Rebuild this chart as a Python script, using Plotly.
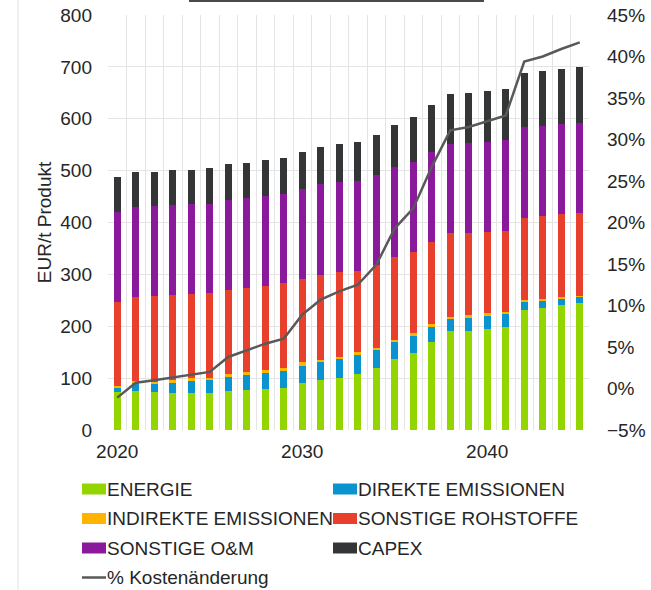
import plotly.graph_objects as go

# Cost breakdown per tonne of product, 2020-2045
years = list(range(2020, 2046))

energie = [74, 75, 73, 72, 70.5, 70.5, 75, 77, 78.5, 80.5, 90, 96.5, 99.5,
           107.5, 119, 136.5, 149, 170, 190.5, 191.5, 195.5, 198, 231.5, 236,
           241, 245.5]
direkte = [7.5, 15, 16.5, 19, 24.5, 25.5, 27.5, 28.5, 31, 34, 34, 35.5, 37.5,
           37, 35, 33.5, 33, 29, 23, 25, 25, 25.5, 15.5, 14.5, 13, 11.5]
indirekte = [4, 4, 3.5, 4.5, 4.5, 5, 6, 7, 5.5, 4.5, 6.5, 3.5, 4.5, 5.5, 4.5,
             3.5, 4.5, 5, 5, 5, 4.5, 4.5, 3.5, 2.5, 2.5, 1.5]
rohstoffe = [162, 162, 165.5, 164.5, 163, 162.5, 161.5, 161, 163, 163.5,
             161.5, 164, 162.5, 156, 160, 159.5, 157.5, 157.5, 160.5, 158, 157,
             156, 159, 159.5, 160, 160.5]
om = [173.5, 173, 173.5, 173, 173, 173, 174, 174.5, 173.5, 173, 173, 174.5,
      173.5, 174, 172.5, 173.5, 173.5, 175, 172.5, 173, 174, 176, 174, 174,
      172.5, 173]
capex = [67, 68, 66, 67.5, 66.5, 68, 68, 67, 68.5, 69, 70, 71.5, 73.5, 75, 78,
         82, 86, 90, 95.5, 97.5, 97.5, 97, 104, 105, 107, 108]
kostenaenderung = [-1.1, 0.7, 1.0, 1.35, 1.7, 2.0, 3.8, 4.6, 5.4, 6.0, 8.9,
                   10.7, 11.7, 12.5, 14.9, 19.3, 21.7, 26.7, 31.1, 31.5, 32.2,
                   32.9, 39.4, 40.0, 40.9, 41.7]

series_names = ["ENERGIE", "DIREKTE EMISSIONEN", "INDIREKTE EMISSIONEN",
                "SONSTIGE ROHSTOFFE", "SONSTIGE O&M", "CAPEX"]
series_values = [energie, direkte, indirekte, rohstoffe, om, capex]
series_colors = ["#93D500", "#0A94CF", "#FFB400", "#E8402C", "#8A1A9B",
                 "#333536"]
line_name = "% Kostenänderung"
line_color = "#595959"
text_color = "#262626"
grid_color = "#E4E4E4"
font_family = "Liberation Sans, Arial, sans-serif"

# pixel geometry of the plot area
PLOT_L, PLOT_R, PLOT_T, PLOT_B = 108, 589, 15, 430
W, H = 651, 590


def px_x(px):
    return (px - PLOT_L) / (PLOT_R - PLOT_L)


def px_y(py):
    return (PLOT_B - py) / (PLOT_B - PLOT_T)


fig = go.Figure()

for name, vals, color in zip(series_names, series_values, series_colors):
    fig.add_trace(go.Bar(
        x=years, y=vals, name=name, marker_color=color,
        marker_line_width=0,
    ))

fig.add_trace(go.Scatter(
    x=years, y=kostenaenderung, name=line_name, yaxis="y2",
    mode="lines", line=dict(color=line_color, width=2.5),
))

# two-column legend below the chart: wide swatches followed by the label
legend_cols = [82, 333]            # swatch left edge (px)
legend_rows = [489, 518.5, 548, 577.5]  # row centre (px)
swatch_w, swatch_h = 24, 11
shapes = []
annotations = []
entries = [(n, c, "bar") for n, c in zip(series_names, series_colors)]
entries.append((line_name, line_color, "line"))
for i, (name, color, kind) in enumerate(entries):
    x0 = legend_cols[i % 2]
    cy = legend_rows[i // 2]
    if kind == "bar":
        shapes.append(dict(
            type="rect", xref="paper", yref="paper",
            x0=px_x(x0), x1=px_x(x0 + swatch_w),
            y0=px_y(cy + swatch_h / 2), y1=px_y(cy - swatch_h / 2),
            fillcolor=color, line=dict(width=0),
        ))
    else:
        shapes.append(dict(
            type="line", xref="paper", yref="paper",
            x0=px_x(x0), x1=px_x(x0 + swatch_w), y0=px_y(cy), y1=px_y(cy),
            line=dict(color=color, width=2.5),
        ))
    annotations.append(dict(
        xref="paper", yref="paper", x=px_x(x0 + swatch_w - 1), y=px_y(cy),
        xanchor="left", yanchor="middle", text=name, showarrow=False,
        font=dict(size=19, color=text_color),
    ))

# thin frame remnants around the figure
shapes.append(dict(type="line", xref="paper", yref="paper",
                   x0=px_x(189), x1=px_x(484), y0=px_y(1), y1=px_y(1),
                   line=dict(color="#4A4A4A", width=2)))
shapes.append(dict(type="line", xref="paper", yref="paper",
                   x0=px_x(18), x1=px_x(18), y0=px_y(0), y1=px_y(H),
                   line=dict(color="#E2E2E2", width=1)))

fig.update_layout(
    width=W, height=H,
    margin=dict(l=PLOT_L, r=W - PLOT_R, t=PLOT_T, b=H - PLOT_B,
                autoexpand=False),
    barmode="stack", bargap=0.62, showlegend=False,
    plot_bgcolor="white", paper_bgcolor="white",
    font=dict(family=font_family, size=19, color=text_color),
    xaxis=dict(
        range=[2019.5, 2045.5], tickmode="array", tickvals=[2020, 2030, 2040],
        ticktext=["2020", "2030", "2040"], showgrid=False, zeroline=False,
        ticks="", ticklabelstandoff=8,
        minor=dict(tick0=2019.5, dtick=1, showgrid=True, gridcolor=grid_color,
                   gridwidth=1, ticks=""),
    ),
    yaxis=dict(
        range=[0, 800], dtick=100, showgrid=True, gridcolor=grid_color,
        zeroline=False, ticks="", ticklabelstandoff=15,
        title=dict(text="EUR/t Produkt", font=dict(size=19), standoff=3),
    ),
    yaxis2=dict(
        overlaying="y", side="right", range=[-5, 45], dtick=5,
        ticksuffix="%", showgrid=False, zeroline=False, ticks="",
        ticklabelstandoff=17,
    ),
    shapes=shapes,
    annotations=annotations,
)

fig.write_html("out.html")
